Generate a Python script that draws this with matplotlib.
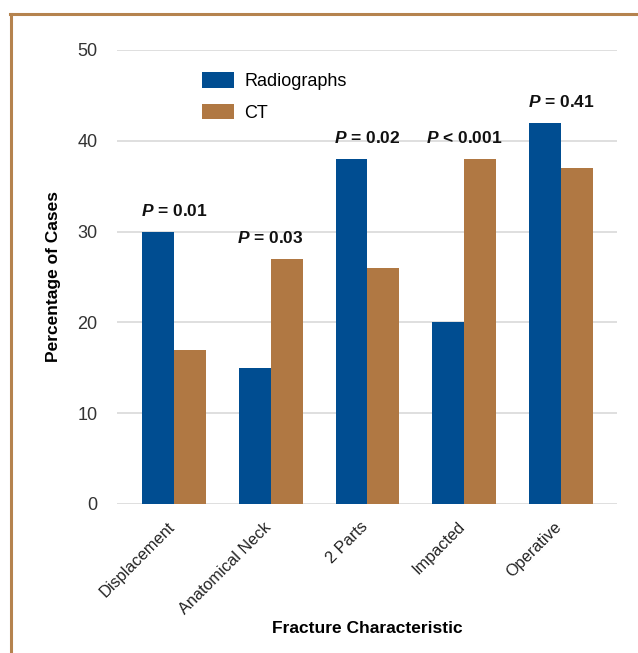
import numpy as np
import matplotlib.pyplot as plt
from matplotlib.lines import Line2D
from matplotlib.transforms import ScaledTranslation

plt.rcParams['font.family'] = ['Liberation Sans', 'DejaVu Sans']
plt.rcParams['mathtext.fontset'] = 'custom'
plt.rcParams['mathtext.it'] = 'Liberation Sans:italic:bold'
plt.rcParams['mathtext.rm'] = 'Liberation Sans:bold'

categories = ['Displacement', 'Anatomical Neck', '2 Parts', 'Impacted', 'Operative']
radiographs = [30, 15, 38, 20, 42]
ct = [17, 27, 26, 38, 37]
p_labels = ['= 0.01', '= 0.03', '= 0.02', '< 0.001', '= 0.41']

blue = '#004D91'
brown = '#B07843'

W, H = 638, 653
fig = plt.figure(figsize=(W / 100, H / 100), dpi=100)
ax = fig.add_axes([117 / W, 1 - 504 / H, 500 / W, 454 / H])

x = np.arange(len(categories))
w = 0.33
ax.bar(x - w / 2, radiographs, w, color=blue, label='Radiographs', zorder=3)
ax.bar(x + w / 2, ct, w, color=brown, label='CT', zorder=3)

for i, lab in enumerate(p_labels):
    top = max(radiographs[i], ct[i])
    ax.text(x[i], top + 2.3, r'$\mathit{P}$ ' + lab, ha='center', va='center',
            fontsize=12.5, fontweight='bold', color='#111111', zorder=4)

ax.set_xlim(-0.59, 4.58)
ax.set_ylim(0, 50)
ax.set_yticks([0, 10, 20, 30, 40, 50])
ax.yaxis.grid(True, color='#d9d9d9', linewidth=1.2, zorder=0)
ax.set_axisbelow(True)
for s in ax.spines.values():
    s.set_visible(False)
ax.tick_params(axis='both', length=0)
ax.tick_params(axis='y', pad=14, labelsize=13, labelcolor='#333333')
ax.set_xticks(x)
ax.set_xticklabels(categories, rotation=45, ha='right', rotation_mode='anchor',
                   fontsize=11.7, color='#222222')
ax.tick_params(axis='x', pad=11)
shift = ScaledTranslation(-0.07, 0, fig.dpi_scale_trans)
for t in ax.get_xticklabels():
    t.set_transform(t.get_transform() + shift)

ax.set_ylabel('Percentage of Cases', fontsize=12.5, fontweight='bold', labelpad=12)
ax.set_xlabel('Fracture Characteristic', fontsize=12.5, fontweight='bold')
ax.xaxis.set_label_coords(0.5, -(621 - 504) / 454)

ax.legend(loc='upper left', bbox_to_anchor=(202 / W, 1 - 72 / H),
          bbox_transform=fig.transFigure, frameon=False, fontsize=13,
          handlelength=1.75, handleheight=0.95, handletextpad=0.6,
          labelspacing=0.75, borderpad=0, borderaxespad=0)

fig.add_artist(Line2D([10 / W, 1], [1 - 14 / H, 1 - 14 / H], color='#B5834E', linewidth=2.2))
fig.add_artist(Line2D([11 / W, 11 / W], [0, 1 - 14 / H], color='#B5834E', linewidth=2.2))

fig.savefig('out.png', dpi=100)
